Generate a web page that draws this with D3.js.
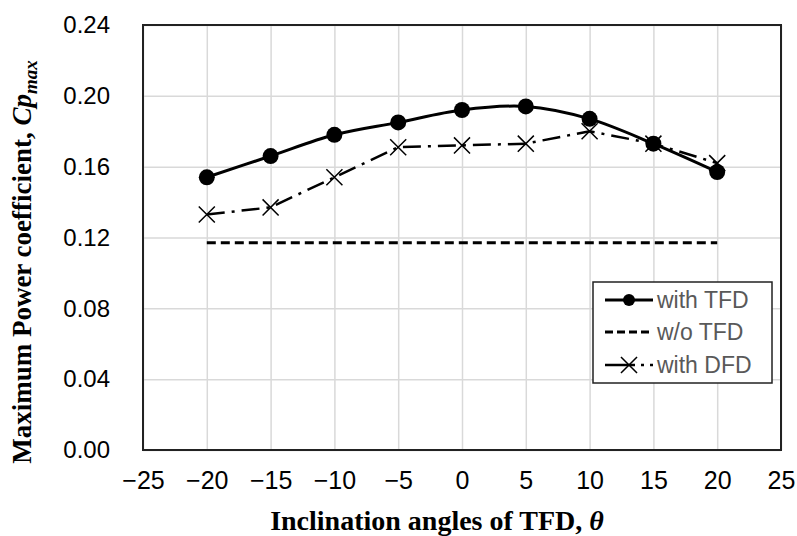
<!DOCTYPE html>
<html>
<head>
<meta charset="utf-8">
<script src="https://cdn.jsdelivr.net/npm/d3@7/dist/d3.min.js"></script>
<style>
  body { margin: 0; background: #fff; }
  svg { display: block; }
</style>
</head>
<body>
<svg id="chart" width="797" height="536"></svg>
<script>
// angles of the TFD (deg)
const angles   = [-20, -15, -10, -5, 0, 5, 10, 15, 20];
const withTFD  = [0.154, 0.166, 0.178, 0.185, 0.192, 0.194, 0.187, 0.173, 0.157];
const woTFD    = [0.117, 0.117, 0.117, 0.117, 0.117, 0.117, 0.117, 0.117, 0.117];
const withDFD  = [0.133, 0.137, 0.154, 0.171, 0.172, 0.173, 0.180, 0.173, 0.162];
const xTicks   = [-25, -20, -15, -10, -5, 0, 5, 10, 15, 20, 25];
const yTicks   = [0, 0.04, 0.08, 0.12, 0.16, 0.20, 0.24];
const legendNames = ["with TFD", "w/o TFD", "with DFD"];

drawChart();

function drawChart() {
  let svg     = d3.select("#chart"),
      pLeft   = 143,
      pRight  = 781,
      pTop    = 25,
      pBottom = 450,
      x       = d3.scaleLinear().domain([-25, 25]).range([pLeft, pRight]),
      y       = d3.scaleLinear().domain([0, 0.24]).range([pBottom, pTop]);

  // grid
  svg.append("g")
    .attr("transform", "translate(0," + pBottom + ")")
    .call(d3.axisBottom(x).tickValues(xTicks).tickSize(-(pBottom - pTop)).tickFormat(""))
    .call(g => g.select(".domain").remove())
    .call(g => g.selectAll("line").attr("stroke", "#d9d9d9").attr("stroke-width", 1.5));

  svg.append("g")
    .attr("transform", "translate(" + pLeft + ",0)")
    .call(d3.axisLeft(y).tickValues(yTicks).tickSize(-(pRight - pLeft)).tickFormat(""))
    .call(g => g.select(".domain").remove())
    .call(g => g.selectAll("line").attr("stroke", "#d9d9d9").attr("stroke-width", 1.5));

  // tick labels
  let minus = d => (d < 0 ? "\u2212" + Math.abs(d) : String(d));

  svg.append("g")
    .attr("transform", "translate(0," + pBottom + ")")
    .call(d3.axisBottom(x).tickValues(xTicks).tickSize(0).tickPadding(21).tickFormat(minus))
    .call(g => g.select(".domain").remove())
    .call(g => g.selectAll("text")
      .attr("font-family", "Liberation Sans, Arial, sans-serif")
      .attr("font-size", 25).attr("fill", "#000"));

  svg.append("g")
    .attr("transform", "translate(" + pLeft + ",0)")
    .call(d3.axisLeft(y).tickValues(yTicks).tickSize(0).tickPadding(33).tickFormat(d3.format(".2f")))
    .call(g => g.select(".domain").remove())
    .call(g => g.selectAll("text")
      .attr("font-family", "Liberation Sans, Arial, sans-serif")
      .attr("font-size", 24).attr("fill", "#000"));

  // plot border
  svg.append("rect")
    .attr("x", pLeft).attr("y", pTop)
    .attr("width", pRight - pLeft).attr("height", pBottom - pTop)
    .attr("fill", "none").attr("stroke", "#222").attr("stroke-width", 2);

  // series
  let ptsTFD = angles.map((a, i) => [a, withTFD[i]]),
      ptsWo  = angles.map((a, i) => [a, woTFD[i]]),
      ptsDFD = angles.map((a, i) => [a, withDFD[i]]);

  let lineSmooth   = d3.line().x(d => x(d[0])).y(d => y(d[1])).curve(d3.curveCatmullRom.alpha(0)),
      lineStraight = d3.line().x(d => x(d[0])).y(d => y(d[1]));

  svg.append("path")
    .attr("d", lineStraight(ptsWo))
    .attr("fill", "none").attr("stroke", "#000")
    .attr("stroke-width", 3).attr("stroke-dasharray", "9,5");

  svg.append("path")
    .attr("d", lineStraight(ptsDFD))
    .attr("fill", "none").attr("stroke", "#000")
    .attr("stroke-width", 2.5).attr("stroke-dasharray", "18,7,3,7");

  svg.append("path")
    .attr("d", lineSmooth(ptsTFD))
    .attr("fill", "none").attr("stroke", "#000").attr("stroke-width", 3);

  svg.selectAll(".dot")
    .data(ptsTFD)
    .enter().append("circle")
    .attr("cx", d => x(d[0])).attr("cy", d => y(d[1]))
    .attr("r", 8).attr("fill", "#000");

  let cross = d3.symbol().type(d3.symbolX).size(170);
  svg.selectAll(".xmark")
    .data(ptsDFD)
    .enter().append("path")
    .attr("transform", d => "translate(" + x(d[0]) + "," + y(d[1]) + ")")
    .attr("d", cross)
    .attr("fill", "none").attr("stroke", "#000").attr("stroke-width", 1.5);

  // legend
  let lg = svg.append("g").attr("transform", "translate(593,282)");
  lg.append("rect")
    .attr("width", 179).attr("height", 101)
    .attr("fill", "#fff").attr("stroke", "#222").attr("stroke-width", 1.5);

  let rowY = [18, 50, 83];
  legendNames.forEach((name, i) => {
    let row = lg.append("g").attr("transform", "translate(0," + rowY[i] + ")");
    let ln = row.append("line")
      .attr("x1", 12).attr("x2", 60).attr("y1", 0).attr("y2", 0)
      .attr("stroke", "#000");
    if (i === 0) {
      ln.attr("stroke-width", 3);
      row.append("circle").attr("cx", 36).attr("cy", 0).attr("r", 6).attr("fill", "#000");
    } else if (i === 1) {
      ln.attr("stroke-width", 3).attr("stroke-dasharray", "8,4");
    } else {
      ln.attr("stroke-width", 2.5).attr("stroke-dasharray", "30,6,3,6");
      row.append("path").attr("transform", "translate(36,0)")
        .attr("d", cross).attr("fill", "none").attr("stroke", "#000").attr("stroke-width", 1.5);
    }
    row.append("text")
      .attr("x", 64).attr("y", 8)
      .attr("font-family", "Liberation Sans, Arial, sans-serif")
      .attr("font-size", 23).attr("fill", "#595959")
      .text(name);
  });

  // axis titles
  let xt = svg.append("text")
    .attr("x", 437).attr("y", 530)
    .attr("text-anchor", "middle")
    .attr("font-family", "Liberation Serif, Times New Roman, serif")
    .attr("font-weight", "bold").attr("font-size", 28).attr("fill", "#000");
  xt.append("tspan").text("Inclination angles of TFD,  ");
  xt.append("tspan").attr("font-style", "italic").text("\u03b8");

  let yt = svg.append("text")
    .attr("transform", "translate(31,262) rotate(-90)")
    .attr("text-anchor", "middle")
    .attr("font-family", "Liberation Serif, Times New Roman, serif")
    .attr("font-weight", "bold").attr("font-size", 27).attr("fill", "#000");
  yt.append("tspan").text("Maximum Power coefficient,  ");
  yt.append("tspan").attr("font-style", "italic").text("Cp");
  yt.append("tspan").attr("font-style", "italic").attr("font-size", 19).attr("dy", 6).text("max");
}
</script>
</body>
</html>
